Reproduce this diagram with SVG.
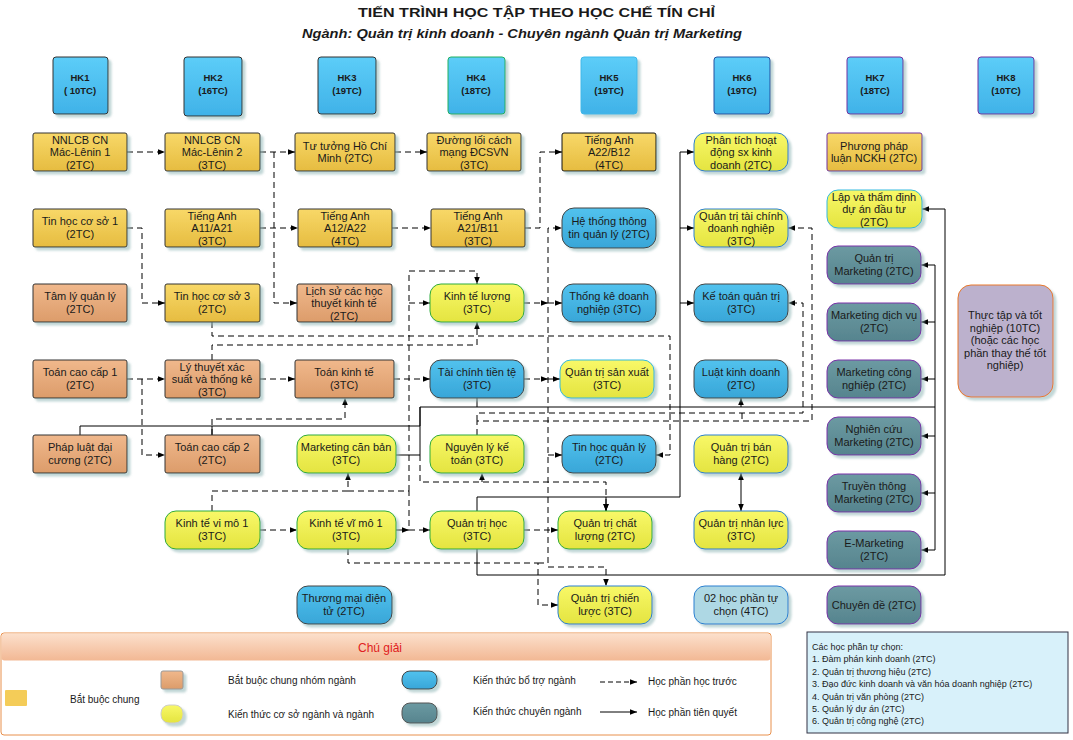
<svg xmlns="http://www.w3.org/2000/svg" width="1073" height="740" viewBox="0 0 1073 740">
<defs>
<linearGradient id="gBB" x1="0" y1="0" x2="0" y2="1"><stop offset="0" stop-color="#f8d868"/><stop offset="1" stop-color="#e6bc40"/></linearGradient>
<linearGradient id="gOR" x1="0" y1="0" x2="0" y2="1"><stop offset="0" stop-color="#f0b88c"/><stop offset="1" stop-color="#dc9c6a"/></linearGradient>
<linearGradient id="gYE" x1="0" y1="0" x2="0" y2="1"><stop offset="0" stop-color="#f8f868"/><stop offset="1" stop-color="#e4e440"/></linearGradient>
<linearGradient id="gBL" x1="0" y1="0" x2="0" y2="1"><stop offset="0" stop-color="#52c2ee"/><stop offset="1" stop-color="#38a6d8"/></linearGradient>
<linearGradient id="gTE" x1="0" y1="0" x2="0" y2="1"><stop offset="0" stop-color="#6c9aa2"/><stop offset="1" stop-color="#56848e"/></linearGradient>
<linearGradient id="gHK" x1="0" y1="0" x2="0" y2="1"><stop offset="0" stop-color="#5ccdf8"/><stop offset="1" stop-color="#40b2e8"/></linearGradient>
<linearGradient id="gLEG" x1="0" y1="0" x2="0" y2="1"><stop offset="0" stop-color="#fce0cc"/><stop offset="1" stop-color="#f2b894"/></linearGradient>
<filter id="sh" x="-10%" y="-10%" width="130%" height="140%"><feDropShadow dx="3" dy="3" stdDeviation="1.2" flood-color="#8fb5b5" flood-opacity="0.55"/></filter>
<marker id="ar" viewBox="0 0 10 10" refX="10" refY="5" markerWidth="7" markerHeight="7" orient="auto-start-reverse"><path d="M0,1 L10,5 L0,9 Z" fill="#000"/></marker>
</defs>
<style>
text{font-family:"Liberation Sans",Arial,sans-serif;fill:#1a1a1a}
.t{font-size:11px;text-anchor:middle}
.hk{font-size:9.5px;font-weight:bold;text-anchor:middle}
.bb{fill:url(#gBB);stroke:#333;stroke-width:1}
.or{fill:url(#gOR);stroke:#333;stroke-width:1}
.ye{fill:url(#gYE);stroke:#2eaa3c;stroke-width:1}
.yb{fill:url(#gYE);stroke:#2a7fd0;stroke-width:1}
.bl{fill:url(#gBL);stroke:#444;stroke-width:1}
.te{fill:url(#gTE);stroke:#7a30a8;stroke-width:1}
.hkr{fill:url(#gHK);stroke:#333;stroke-width:1}
rect.n{filter:url(#sh)}
.d{fill:none;stroke:#000;stroke-width:1;stroke-dasharray:6 4}
.s{fill:none;stroke:#000;stroke-width:1}
.a{marker-end:url(#ar)}
.lg{font-size:10px}
.rb{font-size:9px}
</style>
<rect width="1073" height="740" fill="#fff"/>
<text x="358" y="17" textLength="357" lengthAdjust="spacingAndGlyphs" style="font-size:13px;font-weight:bold">TIẾN TRÌNH HỌC TẬP THEO HỌC CHẾ TÍN CHỈ</text>
<text x="302" y="38" textLength="440" lengthAdjust="spacingAndGlyphs" style="font-size:13.5px;font-weight:bold;font-style:italic">Ngành: Quản trị kinh doanh - Chuyên ngành Quản trị Marketing</text>

<g id="connectors">
<path class="d a" d="M127,152 H165"/>
<path class="d a" d="M260,152 H295"/>
<path class="d a" d="M274,152 V303 H297"/>
<path class="d a" d="M395,152 H427"/>
<path class="d a" d="M260,228 H298"/>
<path class="d a" d="M392,228 H431"/>
<path class="d a" d="M525,228 H540 V152 H562"/>
<path class="d a" d="M127,228 H142 V303 H165"/>
<path class="d a" d="M127,379 H165"/>
<path class="d a" d="M142,379 V455 H165"/>
<path class="d a" d="M260,379 H295"/>
<path class="d a" d="M394,379 H430"/>
<path class="d a" d="M212,322 V336 H670 V455 H656"/>
<path class="d a" d="M212,360 V345 H477 V322"/>
<path class="d a" d="M212,435 V419 H345 V398"/>
<path class="d a" d="M212,511 V491 H348 V473"/>
<path class="d a" d="M348,491 H409 V530 H430"/>
<path class="d a" d="M409,491 V271 H477 V284"/>
<path class="d a" d="M409,303 H430"/>
<path class="d a" d="M260,530 H297"/>
<path class="d a" d="M396,530 H409"/>
<path class="d a" d="M524,530 H558"/>
<path class="d a" d="M348,549 V563 H538 V605 H558"/>
<path class="d a" d="M538,563 H548 V228 H562"/>
<path class="d a" d="M548,303 H562"/>
<path class="d a" d="M548,379 H560"/>
<path class="d a" d="M548,455 H562"/>
<path class="d a" d="M548,567 H606 V586"/>
<path class="d a" d="M524,303 H548"/>
<path class="d a" d="M524,379 H548"/>
<path class="d a" d="M420,455 V482 H606 V511"/>
<path class="d a" d="M482,482 V473"/>
<path class="d a" d="M477,435 V421 H812 V228 H788"/>
<path class="d a" d="M477,421 V413 H803 V303 H788"/>
<path class="d" d="M742,413 V421"/>
<path class="s a" d="M80,435 V426 H420 V407 H741 V398"/>
<path class="s" d="M212,435 V426"/>
<path class="s" d="M396,455 H420 V407"/>
<path class="s" d="M477,398 V407"/>
<path class="s" d="M741,407 H935"/>
<path class="s" d="M935,265 V550"/>
<path class="s a" d="M935,265 H921"/>
<path class="s a" d="M935,322 H921"/>
<path class="s a" d="M935,379 H921"/>
<path class="s a" d="M935,436 H921"/>
<path class="s a" d="M935,493 H921"/>
<path class="s a" d="M935,550 H921"/>
<path class="s" d="M477,511 V497 H680 V152"/>
<path class="s a" d="M680,152 H694"/>
<path class="s a" d="M680,228 H694"/>
<path class="s a" d="M680,303 H694"/>
<path class="s a" d="M606,497 V511"/>
<path class="s a" d="M477,549 V575 H945 V209 H922"/>
<path class="s a" d="M741,492 V473"/>
<path class="s a" d="M741,492 V511"/>
</g>

<g id="hk1"><rect class="hkr n" x="53" y="57" width="55" height="57" rx="3"/><text class="hk" x="80" y="81">HK1</text><text class="hk" x="80" y="94">( 10TC)</text></g>
<g id="hk2"><rect class="hkr n" x="184" y="57" width="58" height="59" rx="3"/><text class="hk" x="213" y="81">HK2</text><text class="hk" x="213" y="94">(16TC)</text></g>
<g id="hk3"><rect class="hkr n" x="318" y="57" width="58" height="57" rx="3"/><text class="hk" x="347" y="81">HK3</text><text class="hk" x="347" y="94">(19TC)</text></g>
<g id="hk4"><rect class="hkr n" x="448" y="57" width="57" height="57" rx="3" style="stroke:#20b060"/><text class="hk" x="476" y="81">HK4</text><text class="hk" x="476" y="94">(18TC)</text></g>
<g id="hk5"><rect class="hkr n" x="581" y="57" width="56" height="57" rx="3" style="stroke:#40b8e8"/><text class="hk" x="609" y="81">HK5</text><text class="hk" x="609" y="94">(19TC)</text></g>
<g id="hk6"><rect class="hkr n" x="714" y="57" width="56" height="57" rx="3" style="stroke:#2050a0"/><text class="hk" x="742" y="81">HK6</text><text class="hk" x="742" y="94">(19TC)</text></g>
<g id="hk7"><rect class="hkr n" x="847" y="57" width="56" height="57" rx="3" style="stroke:#7030a0"/><text class="hk" x="875" y="81">HK7</text><text class="hk" x="875" y="94">(18TC)</text></g>
<g id="hk8"><rect class="hkr n" x="978" y="57" width="56" height="57" rx="3" style="stroke:#7030a0"/><text class="hk" x="1006" y="81">HK8</text><text class="hk" x="1006" y="94">(10TC)</text></g>

<g id="nnlcb1"><rect class="bb n" x="33" y="133" width="94" height="38" rx="2"/><text class="t" x="80" y="143.5">NNLCB CN</text><text class="t" x="80" y="156">Mác-Lênin 1</text><text class="t" x="80" y="168.5">(2TC)</text></g>
<g id="nnlcb2"><rect class="bb n" x="165" y="133" width="95" height="38" rx="2"/><text class="t" x="212" y="143.5">NNLCB CN</text><text class="t" x="212" y="156">Mác-Lênin 2</text><text class="t" x="212" y="168.5">(3TC)</text></g>
<g id="tutuong"><rect class="bb n" x="295" y="133" width="100" height="38" rx="2"/><text class="t" x="345" y="149.5">Tư tưởng Hồ Chí</text><text class="t" x="345" y="162">Minh (2TC)</text></g>
<g id="duongloi"><rect class="bb n" x="427" y="133" width="94" height="38" rx="2"/><text class="t" x="474" y="143.5">Đường lối cách</text><text class="t" x="474" y="156">mạng ĐCSVN</text><text class="t" x="474" y="168.5">(3TC)</text></g>
<g id="ta_a22"><rect class="bb n" x="562" y="133" width="94" height="38" rx="2" style="stroke:#111"/><text class="t" x="609" y="143.5">Tiếng Anh</text><text class="t" x="609" y="156">A22/B12</text><text class="t" x="609" y="168.5">(4TC)</text></g>
<g id="phantich"><rect class="yb n" x="694" y="133" width="94" height="38" rx="11"/><text class="t" x="741" y="143.5">Phân tích hoạt</text><text class="t" x="741" y="156">động sx kinh</text><text class="t" x="741" y="168.5">doanh (2TC)</text></g>
<g id="ppnckh"><rect class="bb n" x="827" y="133" width="95" height="38" rx="2" style="stroke:#7030a0"/><text class="t" x="874" y="149.5">Phương pháp</text><text class="t" x="874" y="162">luận NCKH (2TC)</text></g>

<g id="tinhoc1"><rect class="bb n" x="33" y="209" width="94" height="38" rx="2"/><text class="t" x="80" y="225">Tin học cơ sở 1</text><text class="t" x="80" y="237.5">(2TC)</text></g>
<g id="ta_a11"><rect class="bb n" x="165" y="209" width="95" height="38" rx="2"/><text class="t" x="212" y="219.5">Tiếng Anh</text><text class="t" x="212" y="232">A11/A21</text><text class="t" x="212" y="244.5">(3TC)</text></g>
<g id="ta_a12"><rect class="bb n" x="298" y="209" width="94" height="38" rx="2"/><text class="t" x="345" y="219.5">Tiếng Anh</text><text class="t" x="345" y="232">A12/A22</text><text class="t" x="345" y="244.5">(4TC)</text></g>
<g id="ta_a21"><rect class="bb n" x="431" y="209" width="94" height="38" rx="2"/><text class="t" x="478" y="219.5">Tiếng Anh</text><text class="t" x="478" y="232">A21/B11</text><text class="t" x="478" y="244.5">(3TC)</text></g>
<g id="htttql"><rect class="bl n" x="562" y="208" width="94" height="40" rx="12"/><text class="t" x="609" y="225">Hệ thống thông</text><text class="t" x="609" y="237.5">tin quản lý (2TC)</text></g>
<g id="qttcdn"><rect class="yb n" x="694" y="209" width="94" height="38" rx="11"/><text class="t" x="741" y="219.5">Quản trị tài chính</text><text class="t" x="741" y="232">doanh nghiệp</text><text class="t" x="741" y="244.5">(3TC)</text></g>
<g id="laptd"><rect class="yb n" x="827" y="190" width="95" height="38" rx="11" style="stroke:#30b8e0"/><text class="t" x="874" y="200.5">Lập và thẩm định</text><text class="t" x="874" y="213">dự án đầu tư</text><text class="t" x="874" y="225.5">(2TC)</text></g>

<g id="tamly"><rect class="or n" x="33" y="284" width="94" height="38" rx="2"/><text class="t" x="80" y="300">Tâm lý quản lý</text><text class="t" x="80" y="312.5">(2TC)</text></g>
<g id="tinhoc3"><rect class="bb n" x="165" y="284" width="95" height="38" rx="2"/><text class="t" x="212" y="300">Tin học cơ sở 3</text><text class="t" x="212" y="312.5">(2TC)</text></g>
<g id="lichsu"><rect class="or n" x="297" y="284" width="95" height="38" rx="2"/><text class="t" x="344" y="294.5">Lịch sử các học</text><text class="t" x="344" y="307">thuyết kinh tế</text><text class="t" x="344" y="319.5">(2TC)</text></g>
<g id="ktluong"><rect class="ye n" x="430" y="284" width="94" height="38" rx="11"/><text class="t" x="477" y="300">Kinh tế lượng</text><text class="t" x="477" y="312.5">(3TC)</text></g>
<g id="thongke"><rect class="bl n" x="562" y="284" width="94" height="38" rx="11"/><text class="t" x="609" y="300">Thống kê doanh</text><text class="t" x="609" y="312.5">nghiệp (3TC)</text></g>
<g id="ketoanqt"><rect class="bl n" x="694" y="284" width="94" height="38" rx="11"/><text class="t" x="741" y="300">Kế toán quản trị</text><text class="t" x="741" y="312.5">(3TC)</text></g>

<g id="qtmkt"><rect class="te n" x="827" y="246" width="94" height="38" rx="11"/><text class="t" x="874" y="262">Quản trị</text><text class="t" x="874" y="274.5">Marketing (2TC)</text></g>
<g id="mktdv"><rect class="te n" x="827" y="303" width="94" height="38" rx="11"/><text class="t" x="874" y="319">Marketing dịch vụ</text><text class="t" x="874" y="331.5">(2TC)</text></g>
<g id="mktcn"><rect class="te n" x="827" y="360" width="94" height="38" rx="11"/><text class="t" x="874" y="376">Marketing công</text><text class="t" x="874" y="388.5">nghiệp (2TC)</text></g>
<g id="nckmkt"><rect class="te n" x="827" y="417" width="94" height="38" rx="11"/><text class="t" x="874" y="433">Nghiên cứu</text><text class="t" x="874" y="445.5">Marketing (2TC)</text></g>
<g id="ttmkt"><rect class="te n" x="827" y="474" width="94" height="38" rx="11"/><text class="t" x="874" y="490">Truyền thông</text><text class="t" x="874" y="502.5">Marketing (2TC)</text></g>
<g id="emkt"><rect class="te n" x="827" y="531" width="94" height="38" rx="11"/><text class="t" x="874" y="547">E-Marketing</text><text class="t" x="874" y="559.5">(2TC)</text></g>
<g id="chuyende"><rect class="te n" x="827" y="586" width="94" height="38" rx="11"/><text class="t" x="874" y="609">Chuyên đề (2TC)</text></g>

<g id="thuctap"><rect class="n" x="958" y="285" width="95" height="112" rx="13" style="fill:#bcb1cd;stroke:#e8782a;stroke-width:1"/><text class="t" x="1005" y="319">Thực tập và tốt</text><text class="t" x="1005" y="331.5">nghiệp (10TC)</text><text class="t" x="1005" y="344">(hoặc các học</text><text class="t" x="1005" y="356.5">phần thay thế tốt</text><text class="t" x="1005" y="369">nghiệp)</text></g>

<g id="toancc1"><rect class="or n" x="33" y="360" width="94" height="38" rx="2"/><text class="t" x="80" y="376">Toán cao cấp 1</text><text class="t" x="80" y="388.5">(2TC)</text></g>
<g id="ltxs"><rect class="or n" x="165" y="360" width="95" height="38" rx="2"/><text class="t" x="212" y="370.5">Lý thuyết xác</text><text class="t" x="212" y="383">suất và thống kê</text><text class="t" x="212" y="395.5">(3TC)</text></g>
<g id="toankt"><rect class="or n" x="295" y="360" width="99" height="38" rx="2"/><text class="t" x="344" y="376">Toán kinh tế</text><text class="t" x="344" y="388.5">(3TC)</text></g>
<g id="tctt"><rect class="bl n" x="430" y="360" width="94" height="38" rx="11"/><text class="t" x="477" y="376">Tài chính tiền tệ</text><text class="t" x="477" y="388.5">(3TC)</text></g>
<g id="qtsx"><rect class="yb n" x="560" y="360" width="94" height="38" rx="11" style="stroke:#30b8e0"/><text class="t" x="607" y="376">Quản trị sản xuất</text><text class="t" x="607" y="388.5">(3TC)</text></g>
<g id="luatkd"><rect class="bl n" x="694" y="360" width="94" height="38" rx="11"/><text class="t" x="741" y="376">Luật kinh doanh</text><text class="t" x="741" y="388.5">(2TC)</text></g>

<g id="phapluat"><rect class="or n" x="33" y="435" width="94" height="38" rx="2"/><text class="t" x="80" y="451">Pháp luật đại</text><text class="t" x="80" y="463.5">cương (2TC)</text></g>
<g id="toancc2"><rect class="or n" x="165" y="435" width="95" height="38" rx="2"/><text class="t" x="212" y="451">Toán cao cấp 2</text><text class="t" x="212" y="463.5">(2TC)</text></g>
<g id="mktcb"><rect class="ye n" x="297" y="435" width="99" height="38" rx="11"/><text class="t" x="346" y="451">Marketing căn bản</text><text class="t" x="346" y="463.5">(3TC)</text></g>
<g id="nlkt"><rect class="ye n" x="430" y="435" width="94" height="38" rx="11"/><text class="t" x="477" y="451">Nguyên lý kế</text><text class="t" x="477" y="463.5">toán (3TC)</text></g>
<g id="thql"><rect class="bl n" x="562" y="435" width="94" height="38" rx="11"/><text class="t" x="609" y="451">Tin học quản lý</text><text class="t" x="609" y="463.5">(2TC)</text></g>
<g id="qtbh"><rect class="yb n" x="694" y="435" width="94" height="38" rx="11"/><text class="t" x="741" y="451">Quản trị bán</text><text class="t" x="741" y="463.5">hàng (2TC)</text></g>

<g id="ktvimo"><rect class="ye n" x="165" y="511" width="95" height="38" rx="11"/><text class="t" x="212" y="527">Kinh tế vi mô 1</text><text class="t" x="212" y="539.5">(3TC)</text></g>
<g id="ktvimo2"><rect class="ye n" x="297" y="511" width="99" height="38" rx="11"/><text class="t" x="346" y="527">Kinh tế vĩ mô 1</text><text class="t" x="346" y="539.5">(3TC)</text></g>
<g id="qthoc"><rect class="ye n" x="430" y="511" width="94" height="38" rx="11"/><text class="t" x="477" y="527">Quản trị học</text><text class="t" x="477" y="539.5">(3TC)</text></g>
<g id="qtcl"><rect class="ye n" x="558" y="511" width="94" height="38" rx="11"/><text class="t" x="605" y="527">Quản trị chất</text><text class="t" x="605" y="539.5">lượng (2TC)</text></g>
<g id="qtnl"><rect class="yb n" x="694" y="511" width="94" height="38" rx="11"/><text class="t" x="741" y="527">Quản trị nhân lực</text><text class="t" x="741" y="539.5">(3TC)</text></g>

<g id="tmdt"><rect class="bl n" x="297" y="586" width="95" height="38" rx="11"/><text class="t" x="344" y="602">Thương mại điện</text><text class="t" x="344" y="614.5">tử (2TC)</text></g>
<g id="qtcl2"><rect class="yb n" x="558" y="586" width="94" height="38" rx="11"/><text class="t" x="605" y="602">Quản trị chiến</text><text class="t" x="605" y="614.5">lược (3TC)</text></g>
<g id="tuchon"><rect class="n" x="694" y="586" width="94" height="38" rx="11" style="fill:#aed8e4;stroke:#2a7fd0"/><text class="t" x="741" y="602">02 học phần tự</text><text class="t" x="741" y="614.5">chọn (4TC)</text></g>

<g id="legend">
<rect x="1" y="633" width="770" height="102" rx="3" fill="#fff" stroke="#e8904c" stroke-width="1"/>
<rect x="1.5" y="633.5" width="769" height="27" rx="3" fill="url(#gLEG)"/>
<text x="380" y="652" style="font-size:12px;fill:#e02020;text-anchor:middle">Chú giải</text>
<rect x="5" y="690" width="22" height="16" rx="1" style="fill:#f4cc58"/>
<text class="lg" x="70" y="703">Bắt buộc chung</text>
<rect class="or n" x="161" y="671" width="22" height="18" rx="2" style="stroke:#999"/>
<text class="lg" x="228" y="684">Bắt buộc chung nhóm ngành</text>
<rect class="ye n" x="161" y="705" width="22" height="18" rx="8" style="stroke:#ccc"/>
<text class="lg" x="228" y="718">Kiến thức cơ sở ngành và ngành</text>
<rect class="bl n" x="402" y="671" width="35" height="18" rx="8"/>
<text class="lg" x="473" y="684">Kiến thức bổ trợ ngành</text>
<rect class="te n" x="402" y="703" width="35" height="20" rx="8" style="stroke:#555"/>
<text class="lg" x="473" y="715">Kiến thức chuyên ngành</text>
<path class="d a" d="M600,682 H637" style="stroke-dasharray:5 3"/>
<text class="lg" x="648" y="685">Học phần học trước</text>
<path class="s a" d="M600,712 H637"/>
<text class="lg" x="648" y="716">Học phần tiên quyết</text>
</g>

<g id="electives">
<rect x="807" y="632" width="261" height="101" fill="#d8f1fa" stroke="#334" stroke-width="1"/>
<text class="rb" x="812" y="650">Các học phần tự chọn:</text>
<text class="rb" x="812" y="662">1. Đàm phán kinh doanh (2TC)</text>
<text class="rb" x="812" y="675">2. Quản trị thương hiệu (2TC)</text>
<text class="rb" x="812" y="687">3. Đạo đức kinh doanh và văn hóa doanh nghiệp (2TC)</text>
<text class="rb" x="812" y="700">4. Quản trị văn phòng (2TC)</text>
<text class="rb" x="812" y="712">5. Quản lý dự án (2TC)</text>
<text class="rb" x="812" y="724">6. Quản trị công nghệ (2TC)</text>
</g>
</svg>
